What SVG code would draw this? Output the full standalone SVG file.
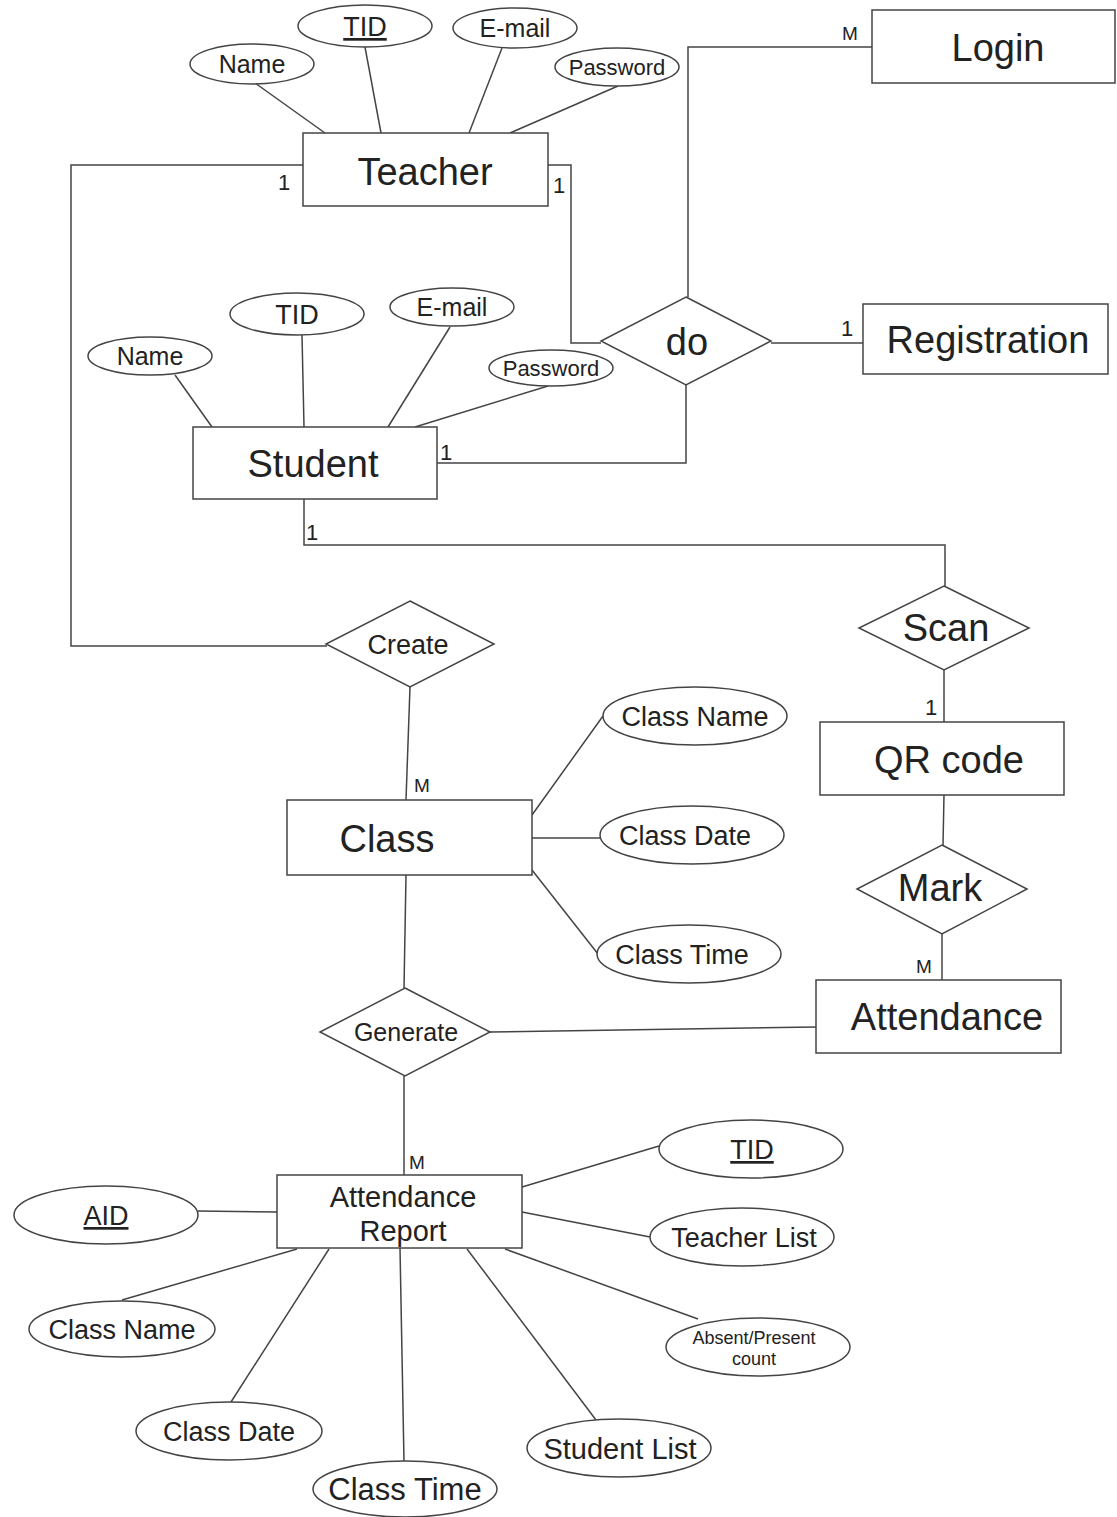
<svg xmlns="http://www.w3.org/2000/svg" width="1117" height="1517" viewBox="0 0 1117 1517">
<style>
.e{fill:#fff;stroke:#444;stroke-width:1.5}
.c{fill:none;stroke:#444;stroke-width:1.5}
text{font-family:"Liberation Sans",Arial,sans-serif;fill:#222;text-anchor:middle}
.big{font-size:38px}
.u{text-decoration:underline}
.lab{font-size:22px;text-anchor:start}
.m{font-size:19px;text-anchor:start}
</style>
<rect width="1117" height="1517" fill="#fff"/>
<g id="connectors">
<polyline class="c" points="303,165 71,165 71,646 327,646"/>
<polyline class="c" points="548,165 571,165 571,343 601,343"/>
<polyline class="c" points="872,47 688,47 688,297"/>
<line class="c" x1="771" y1="343" x2="863" y2="343"/>
<polyline class="c" points="686,385 686,463 437,463"/>
<polyline class="c" points="304,499 304,545 945,545 945,586"/>
<line class="c" x1="944" y1="670" x2="944" y2="722"/>
<line class="c" x1="944" y1="795" x2="943" y2="845"/>
<line class="c" x1="942" y1="934" x2="942" y2="980"/>
<line class="c" x1="816" y1="1027" x2="490" y2="1032"/>
<line class="c" x1="410" y1="687" x2="406" y2="800"/>
<line class="c" x1="406" y1="875" x2="404" y2="988"/>
<line class="c" x1="404" y1="1076" x2="404" y2="1175"/>
<line class="c" x1="255" y1="83" x2="325" y2="133"/>
<line class="c" x1="365" y1="47" x2="381" y2="133"/>
<line class="c" x1="502" y1="48" x2="469" y2="133"/>
<line class="c" x1="618" y1="86" x2="510" y2="133"/>
<line class="c" x1="175" y1="375" x2="212" y2="427"/>
<line class="c" x1="302" y1="335" x2="304" y2="427"/>
<line class="c" x1="450" y1="327" x2="388" y2="427"/>
<line class="c" x1="548" y1="386" x2="415" y2="427"/>
<line class="c" x1="532" y1="815" x2="603" y2="716"/>
<line class="c" x1="532" y1="838" x2="600" y2="838"/>
<line class="c" x1="532" y1="870" x2="598" y2="954"/>
<line class="c" x1="198" y1="1211" x2="277" y2="1212"/>
<line class="c" x1="122" y1="1300" x2="297" y2="1249"/>
<line class="c" x1="329" y1="1249" x2="231" y2="1402"/>
<line class="c" x1="400" y1="1248" x2="404" y2="1461"/>
<line class="c" x1="467" y1="1249" x2="596" y2="1420"/>
<line class="c" x1="505" y1="1249" x2="698" y2="1319"/>
<line class="c" x1="522" y1="1212" x2="650" y2="1237"/>
<line class="c" x1="522" y1="1187" x2="659" y2="1146"/>
<text class="lab" x="278" y="190">1</text>
<text class="lab" x="553" y="193">1</text>
<text class="m" x="842" y="40">M</text>
<text class="lab" x="841" y="336">1</text>
<text class="lab" x="440" y="460">1</text>
<text class="lab" x="306" y="540">1</text>
<text class="lab" x="925" y="715">1</text>
<text class="m" x="916" y="973">M</text>
<text class="m" x="414" y="792">M</text>
<text class="m" x="409" y="1169">M</text>
</g>
<g id="teacher"><rect class="e" x="303" y="133" width="245" height="73"/><text class="big" x="425" y="185">Teacher</text></g>
<g id="t-name"><ellipse class="e" cx="252" cy="64" rx="62" ry="20"/><text x="252" y="73" font-size="25">Name</text></g>
<g id="t-tid"><ellipse class="e" cx="365" cy="26" rx="67" ry="21"/><text class="u" x="365" y="36" font-size="27">TID</text></g>
<g id="t-email"><ellipse class="e" cx="515" cy="28" rx="62" ry="20"/><text x="515" y="37" font-size="25">E-mail</text></g>
<g id="t-password"><ellipse class="e" cx="617" cy="67" rx="62" ry="19"/><text x="617" y="75" font-size="22">Password</text></g>
<g id="login"><rect class="e" x="872" y="10" width="243" height="73"/><text class="big" x="998" y="61">Login</text></g>
<g id="do"><polygon class="e" points="686,297 771,341 686,385 601,341"/><text class="big" x="687" y="355">do</text></g>
<g id="registration"><rect class="e" x="863" y="304" width="245" height="70"/><text class="big" x="988" y="353">Registration</text></g>
<g id="student"><rect class="e" x="193" y="427" width="244" height="72"/><text class="big" x="313" y="477">Student</text></g>
<g id="s-name"><ellipse class="e" cx="150" cy="356" rx="62" ry="19"/><text x="150" y="365" font-size="25">Name</text></g>
<g id="s-tid"><ellipse class="e" cx="297" cy="314" rx="67" ry="21"/><text x="297" y="324" font-size="27">TID</text></g>
<g id="s-email"><ellipse class="e" cx="452" cy="307" rx="62" ry="19"/><text x="452" y="316" font-size="25">E-mail</text></g>
<g id="s-password"><ellipse class="e" cx="551" cy="368" rx="62" ry="18"/><text x="551" y="376" font-size="22">Password</text></g>
<g id="scan"><polygon class="e" points="944,586 1029,628 944,670 859,628"/><text class="big" x="946" y="641">Scan</text></g>
<g id="qrcode"><rect class="e" x="820" y="722" width="244" height="73"/><text class="big" x="949" y="773">QR code</text></g>
<g id="mark"><polygon class="e" points="942,845 1027,889 942,934 857,889"/><text class="big" x="940" y="901">Mark</text></g>
<g id="attendance"><rect class="e" x="816" y="980" width="245" height="73"/><text class="big" x="947" y="1030">Attendance</text></g>
<g id="create"><polygon class="e" points="410,601 494,644 410,687 326,644"/><text x="408" y="654" font-size="27">Create</text></g>
<g id="class"><rect class="e" x="287" y="800" width="245" height="75"/><text class="big" x="387" y="852">Class</text></g>
<g id="c-name"><ellipse class="e" cx="695" cy="716" rx="92" ry="29"/><text x="695" y="726" font-size="27">Class Name</text></g>
<g id="c-date"><ellipse class="e" cx="692" cy="835" rx="92" ry="29"/><text x="685" y="845" font-size="27">Class Date</text></g>
<g id="c-time"><ellipse class="e" cx="689" cy="954" rx="92" ry="29"/><text x="682" y="964" font-size="27">Class Time</text></g>
<g id="generate"><polygon class="e" points="405,988 490,1032 405,1076 320,1032"/><text x="406" y="1041" font-size="25">Generate</text></g>
<g id="report"><rect class="e" x="277" y="1175" width="245" height="73"/><text x="403" y="1207" font-size="29">Attendance</text><text x="403" y="1241" font-size="29">Report</text></g>
<g id="r-aid"><ellipse class="e" cx="106" cy="1215" rx="92" ry="29"/><text class="u" x="106" y="1225" font-size="27">AID</text></g>
<g id="r-cname"><ellipse class="e" cx="122" cy="1329" rx="93" ry="28"/><text x="122" y="1339" font-size="27">Class Name</text></g>
<g id="r-cdate"><ellipse class="e" cx="229" cy="1431" rx="93" ry="29"/><text x="229" y="1441" font-size="27">Class Date</text></g>
<g id="r-ctime"><ellipse class="e" cx="405" cy="1489" rx="92" ry="28"/><text x="405" y="1500" font-size="31">Class Time</text></g>
<g id="r-slist"><ellipse class="e" cx="619" cy="1448" rx="92" ry="29"/><text x="620" y="1459" font-size="29">Student List</text></g>
<g id="r-count"><ellipse class="e" cx="758" cy="1347" rx="92" ry="29"/><text x="754" y="1344" font-size="18">Absent/Present</text><text x="754" y="1365" font-size="18">count</text></g>
<g id="r-tlist"><ellipse class="e" cx="742" cy="1237" rx="92" ry="29"/><text x="744" y="1247" font-size="27">Teacher List</text></g>
<g id="r-tid"><ellipse class="e" cx="751" cy="1149" rx="92" ry="29"/><text class="u" x="752" y="1159" font-size="27">TID</text></g>
</svg>
